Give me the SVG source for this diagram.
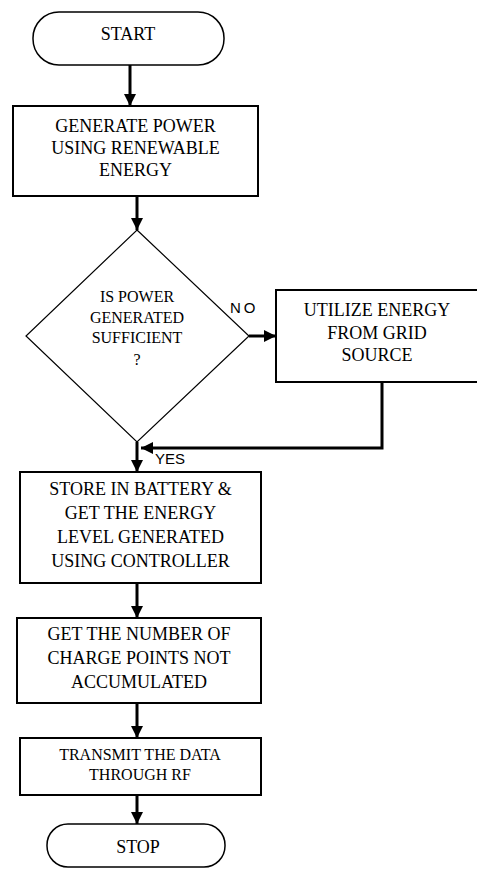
<svg xmlns="http://www.w3.org/2000/svg" width="477" height="870" viewBox="0 0 477 870">
<style>
.box{fill:#fff;stroke:#000;stroke-width:2}
.term{fill:#fff;stroke:#000;stroke-width:1.5}
.dia{fill:#fff;stroke:#000;stroke-width:1.2}
.t{font-family:"Liberation Serif","Times New Roman",serif;font-size:18px;fill:#000;text-anchor:middle}
.ts{font-family:"Liberation Serif","Times New Roman",serif;font-size:16px;fill:#000;text-anchor:middle}
.lbl{font-family:"Liberation Sans",Arial,sans-serif;font-size:15px;fill:#000}
.c{fill:none;stroke:#000;stroke-width:3}
</style>
<defs>
<marker id="ah" viewBox="0 0 10 10" refX="10" refY="5" markerWidth="4" markerHeight="4" orient="auto" markerUnits="strokeWidth">
<path d="M0,0 L10,5 L0,10 z" fill="#000"/>
</marker>
</defs>
<g id="start">
<rect class="term" x="33" y="12" width="191" height="53" rx="26" ry="26"/>
<text class="t" x="128" y="40">START</text>
</g>
<g id="generate">
<rect class="box" x="13" y="106" width="245" height="90"/>
<text class="t" x="135.5" y="132">GENERATE POWER</text>
<text class="t" x="135.5" y="154">USING RENEWABLE</text>
<text class="t" x="135.5" y="176">ENERGY</text>
</g>
<g id="decision">
<polygon class="dia" points="137,230 249,336 137,442 26,336"/>
<text class="ts" x="137" y="302">IS POWER</text>
<text class="ts" x="137" y="323">GENERATED</text>
<text class="ts" x="137" y="343">SUFFICIENT</text>
<text class="ts" x="137" y="365">?</text>
</g>
<g id="grid">
<rect class="box" x="276" y="290" width="206" height="92"/>
<text class="t" x="377" y="316">UTILIZE ENERGY</text>
<text class="t" x="377" y="338.5">FROM GRID</text>
<text class="t" x="377" y="361">SOURCE</text>
</g>
<g id="store">
<rect class="box" x="20" y="472" width="241" height="111"/>
<text class="t" x="140.5" y="495">STORE IN BATTERY &amp;</text>
<text class="t" x="140.5" y="519">GET THE ENERGY</text>
<text class="t" x="140.5" y="543">LEVEL GENERATED</text>
<text class="t" x="140.5" y="567">USING CONTROLLER</text>
</g>
<g id="count">
<rect class="box" x="17" y="618" width="244" height="85"/>
<text class="t" x="139" y="640">GET THE NUMBER OF</text>
<text class="t" x="139" y="664">CHARGE POINTS NOT</text>
<text class="t" x="139" y="688">ACCUMULATED</text>
</g>
<g id="transmit">
<rect class="box" x="20" y="738" width="241" height="57"/>
<text class="ts" x="140" y="760">TRANSMIT THE DATA</text>
<text class="ts" x="140" y="780">THROUGH RF</text>
</g>
<g id="stop">
<rect class="term" x="47" y="824" width="178" height="43" rx="21" ry="21"/>
<text class="t" x="138" y="853">STOP</text>
</g>
<g id="connectors">
<line class="c" x1="130" y1="65" x2="130" y2="106" marker-end="url(#ah)"/>
<line class="c" x1="137" y1="196" x2="137" y2="230" marker-end="url(#ah)"/>
<line class="c" x1="249" y1="336" x2="276" y2="336" marker-end="url(#ah)"/>
<polyline class="c" points="382,382 382,448 141,448" marker-end="url(#ah)"/>
<line class="c" x1="137" y1="442" x2="137" y2="472" marker-end="url(#ah)"/>
<line class="c" x1="137" y1="583" x2="137" y2="618" marker-end="url(#ah)"/>
<line class="c" x1="137" y1="703" x2="137" y2="738" marker-end="url(#ah)"/>
<line class="c" x1="137" y1="795" x2="137" y2="824" marker-end="url(#ah)"/>
<text class="lbl" x="230" y="313" letter-spacing="3">NO</text>
<text class="lbl" x="155" y="464">YES</text>
</g>
</svg>
